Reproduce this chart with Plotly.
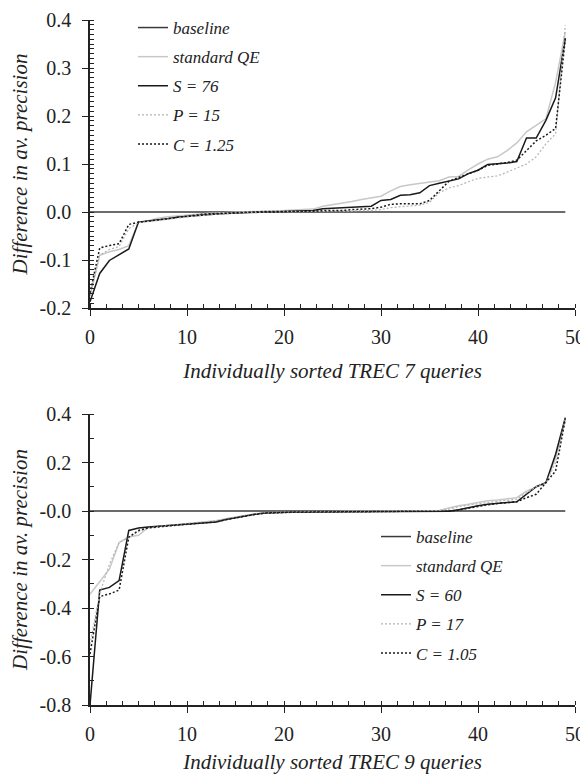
import plotly.graph_objects as go

# ---------------- data ----------------
queries = list(range(50))

# TREC 7 (top panel)
t7_qe = [-0.175, -0.09, -0.083, -0.078, -0.07, -0.021, -0.018, -0.013, -0.010, -0.008,
         -0.006, -0.004, -0.003, -0.002, -0.001, 0.000, 0.000, 0.001, 0.001, 0.002,
         0.002, 0.003, 0.004, 0.006, 0.012, 0.015, 0.019, 0.022, 0.026, 0.029,
         0.033, 0.044, 0.053, 0.057, 0.060, 0.062, 0.065, 0.073, 0.074, 0.088,
         0.100, 0.110, 0.115, 0.128, 0.144, 0.167, 0.180, 0.194, 0.270, 0.375]
t7_s = [-0.187, -0.128, -0.101, -0.089, -0.077, -0.021, -0.019, -0.017, -0.014, -0.011,
        -0.009, -0.007, -0.005, -0.004, -0.003, -0.002, -0.001, -0.001, 0.000, 0.000,
        0.001, 0.001, 0.002, 0.003, 0.007, 0.008, 0.009, 0.010, 0.011, 0.012,
        0.024, 0.026, 0.035, 0.036, 0.040, 0.055, 0.060, 0.064, 0.069, 0.080,
        0.087, 0.099, 0.100, 0.102, 0.105, 0.154, 0.154, 0.191, 0.238, 0.362]
t7_p = [-0.175, -0.090, -0.078, -0.072, -0.035, -0.022, -0.020, -0.018, -0.016, -0.013,
        -0.010, -0.008, -0.006, -0.004, -0.003, -0.002, -0.001, -0.001, 0.000, 0.000,
        0.001, 0.001, 0.001, 0.001, 0.002, 0.002, 0.002, 0.002, 0.003, 0.003,
        0.005, 0.009, 0.011, 0.013, 0.014, 0.020, 0.040, 0.050, 0.055, 0.063,
        0.070, 0.073, 0.075, 0.083, 0.092, 0.100, 0.115, 0.142, 0.163, 0.389]
t7_c = [-0.169, -0.075, -0.070, -0.066, -0.026, -0.021, -0.019, -0.017, -0.014, -0.011,
        -0.008, -0.006, -0.004, -0.003, -0.002, -0.001, 0.000, 0.000, 0.001, 0.001,
        0.001, 0.002, 0.002, 0.002, 0.003, 0.003, 0.003, 0.005, 0.006, 0.007,
        0.010, 0.016, 0.017, 0.017, 0.017, 0.024, 0.045, 0.064, 0.072, 0.080,
        0.087, 0.097, 0.100, 0.103, 0.108, 0.128, 0.148, 0.160, 0.174, 0.360]

# TREC 9 (bottom panel)
t9_qe = [-0.343, -0.290, -0.240, -0.130, -0.107, -0.100, -0.068, -0.063, -0.060, -0.056,
         -0.052, -0.048, -0.044, -0.040, -0.032, -0.025, -0.018, -0.012, -0.008, -0.006,
         -0.005, -0.004, -0.004, -0.003, -0.003, -0.003, -0.002, -0.002, -0.002, -0.001,
         -0.001, -0.001, 0.000, 0.000, 0.001, 0.001, 0.002, 0.012, 0.022, 0.028,
         0.035, 0.042, 0.045, 0.050, 0.055, 0.082, 0.100, 0.117, 0.220, 0.380]
t9_s = [-0.800, -0.326, -0.315, -0.287, -0.080, -0.070, -0.066, -0.063, -0.060, -0.057,
        -0.054, -0.051, -0.048, -0.045, -0.035, -0.027, -0.020, -0.013, -0.008, -0.006,
        -0.005, -0.004, -0.004, -0.004, -0.003, -0.003, -0.003, -0.002, -0.002, -0.002,
        -0.002, -0.001, -0.001, -0.001, -0.001, -0.001, -0.001, -0.001, 0.005, 0.014,
        0.022, 0.028, 0.033, 0.035, 0.038, 0.069, 0.100, 0.117, 0.234, 0.385]
t9_p = [-0.550, -0.340, -0.220, -0.130, -0.110, -0.085, -0.070, -0.064, -0.060, -0.056,
        -0.052, -0.048, -0.044, -0.040, -0.032, -0.024, -0.017, -0.011, -0.007, -0.005,
        -0.004, -0.004, -0.003, -0.003, -0.003, -0.002, -0.002, -0.002, -0.001, -0.001,
        -0.001, 0.000, 0.000, 0.000, 0.001, 0.001, 0.002, 0.008, 0.018, 0.024,
        0.030, 0.036, 0.040, 0.044, 0.048, 0.075, 0.100, 0.115, 0.200, 0.380]
t9_c = [-0.590, -0.353, -0.342, -0.326, -0.108, -0.080, -0.070, -0.065, -0.061, -0.058,
        -0.055, -0.052, -0.049, -0.045, -0.036, -0.028, -0.021, -0.014, -0.009, -0.007,
        -0.006, -0.005, -0.005, -0.004, -0.004, -0.004, -0.003, -0.003, -0.003, -0.002,
        -0.002, -0.002, -0.002, -0.001, -0.001, -0.001, -0.001, -0.001, 0.004, 0.012,
        0.020, 0.026, 0.031, 0.034, 0.038, 0.055, 0.069, 0.117, 0.165, 0.378]

baseline = [0.0] * 50

labels_top = ["baseline", "standard QE", "S = 76", "P = 15", "C = 1.25"]
labels_bot = ["baseline", "standard QE", "S = 60", "P = 17", "C = 1.05"]

x_ticks = [0, 10, 20, 30, 40, 50]
y_top_ticks = [0.4, 0.3, 0.2, 0.1, 0.0, -0.1, -0.2]
y_top_text = ["0.4", "0.3", "0.2", "0.1", "0.0", "-0.1", "-0.2"]
y_bot_ticks = [0.4, 0.2, 0.0, -0.2, -0.4, -0.6, -0.8]
y_bot_text = ["0.4", "0.2", "-0.0", "-0.2", "-0.4", "-0.6", "-0.8"]

x_title_top = "Individually sorted TREC 7 queries"
x_title_bot = "Individually sorted TREC 9 queries"
y_title = "Difference in av. precision"

# ---------------- figure ----------------
# the page body has an 8px margin: the figure starts at (8, 8) in the window
OFF = 8
W, H = 588 - OFF, 774 - OFF
FONT = "'Liberation Serif', 'Times New Roman', Times, serif"

styles = [
    dict(color="#3a3a3a", width=1.5),                 # baseline
    dict(color="#c8c8c8", width=1.5),                 # standard QE
    dict(color="#1a1a1a", width=1.5),                 # S
    dict(color="#b4b4b4", width=1.2, dash="2px,2px"),  # P
    dict(color="#1a1a1a", width=1.5, dash="2px,2px"),  # C
]

fig = go.Figure()

def add_panel(series, labels, xa, ya, legend):
    for i, (vals, lab) in enumerate(zip(series, labels)):
        fig.add_trace(go.Scatter(
            x=queries, y=vals, mode="lines", name=lab,
            line=styles[i], xaxis=xa, yaxis=ya, legend=legend,
            legendgroup=legend + str(i), showlegend=True,
        ))

add_panel([baseline, t7_qe, t7_s, t7_p, t7_c], labels_top, "x", "y", "legend")
add_panel([baseline, t9_qe, t9_s, t9_p, t9_c], labels_bot, "x2", "y2", "legend2")

def px_x(p):
    """window x pixel -> paper fraction"""
    return (p - OFF) / W

def px_y(p):
    """window y pixel -> paper fraction"""
    return 1 - (p - OFF) / H

x_dom = [px_x(90), px_x(575)]

axis_font = dict(family=FONT, size=20, color="#222")
title_font = dict(family=FONT, size=21, color="#222", style="italic")

def xaxis(title, anchor, standoff):
    return dict(
        domain=x_dom, range=[0, 50], anchor=anchor,
        tickvals=x_ticks, ticks="outside", ticklen=6, tickwidth=1.2, tickcolor="#222",
        showline=True, linecolor="#222", linewidth=1.5, showgrid=False, zeroline=False,
        tickfont=axis_font, ticklabelstandoff=4, ticklabeloverflow="allow",
        minor=dict(dtick=10 / 6, tick0=0, ticks="inside", ticklen=4, tickwidth=1, tickcolor="#222", showgrid=False),
        title=dict(text=title, font=title_font, standoff=standoff),
        automargin=False,
    )

def yaxis(dom, rng, tv, tt, minor_dt, anchor):
    return dict(
        domain=dom, range=rng, anchor=anchor,
        tickvals=tv, ticktext=tt, ticks="outside", ticklen=6, tickwidth=1.2, tickcolor="#222",
        showline=True, linecolor="#222", linewidth=1.5, showgrid=False, zeroline=False,
        tickfont=axis_font, ticklabelstandoff=7,
        minor=dict(dtick=minor_dt, tick0=0, ticks="inside", ticklen=4, tickwidth=1, tickcolor="#222", showgrid=False),
        title=dict(text=y_title, font=title_font, standoff=6),
        automargin=False,
    )

legend_common = dict(
    font=dict(family=FONT, size=17, color="#222", style="italic"),
    bgcolor="rgba(0,0,0,0)", borderwidth=0, tracegroupgap=4,
    xanchor="left", yanchor="top", itemwidth=30,
)

fig.update_layout(
    width=W, height=H,
    margin=dict(l=0, r=0, t=0, b=0, autoexpand=False),
    paper_bgcolor="white", plot_bgcolor="white",
    font=dict(family=FONT),
    xaxis=xaxis(x_title_top, "y", 17),
    yaxis=yaxis([px_y(308), px_y(20)], [-0.2, 0.4], y_top_ticks, y_top_text, 0.01, "x"),
    xaxis2=xaxis(x_title_bot, "y2", 17),
    yaxis2=yaxis([px_y(705), px_y(414)], [-0.8, 0.4], y_bot_ticks, y_bot_text, 0.1, "x2"),
    legend=dict(x=px_x(133), y=px_y(10), **legend_common),
    legend2=dict(x=px_x(376), y=px_y(519), **legend_common),
    showlegend=True,
)

fig.write_html("out.html")
